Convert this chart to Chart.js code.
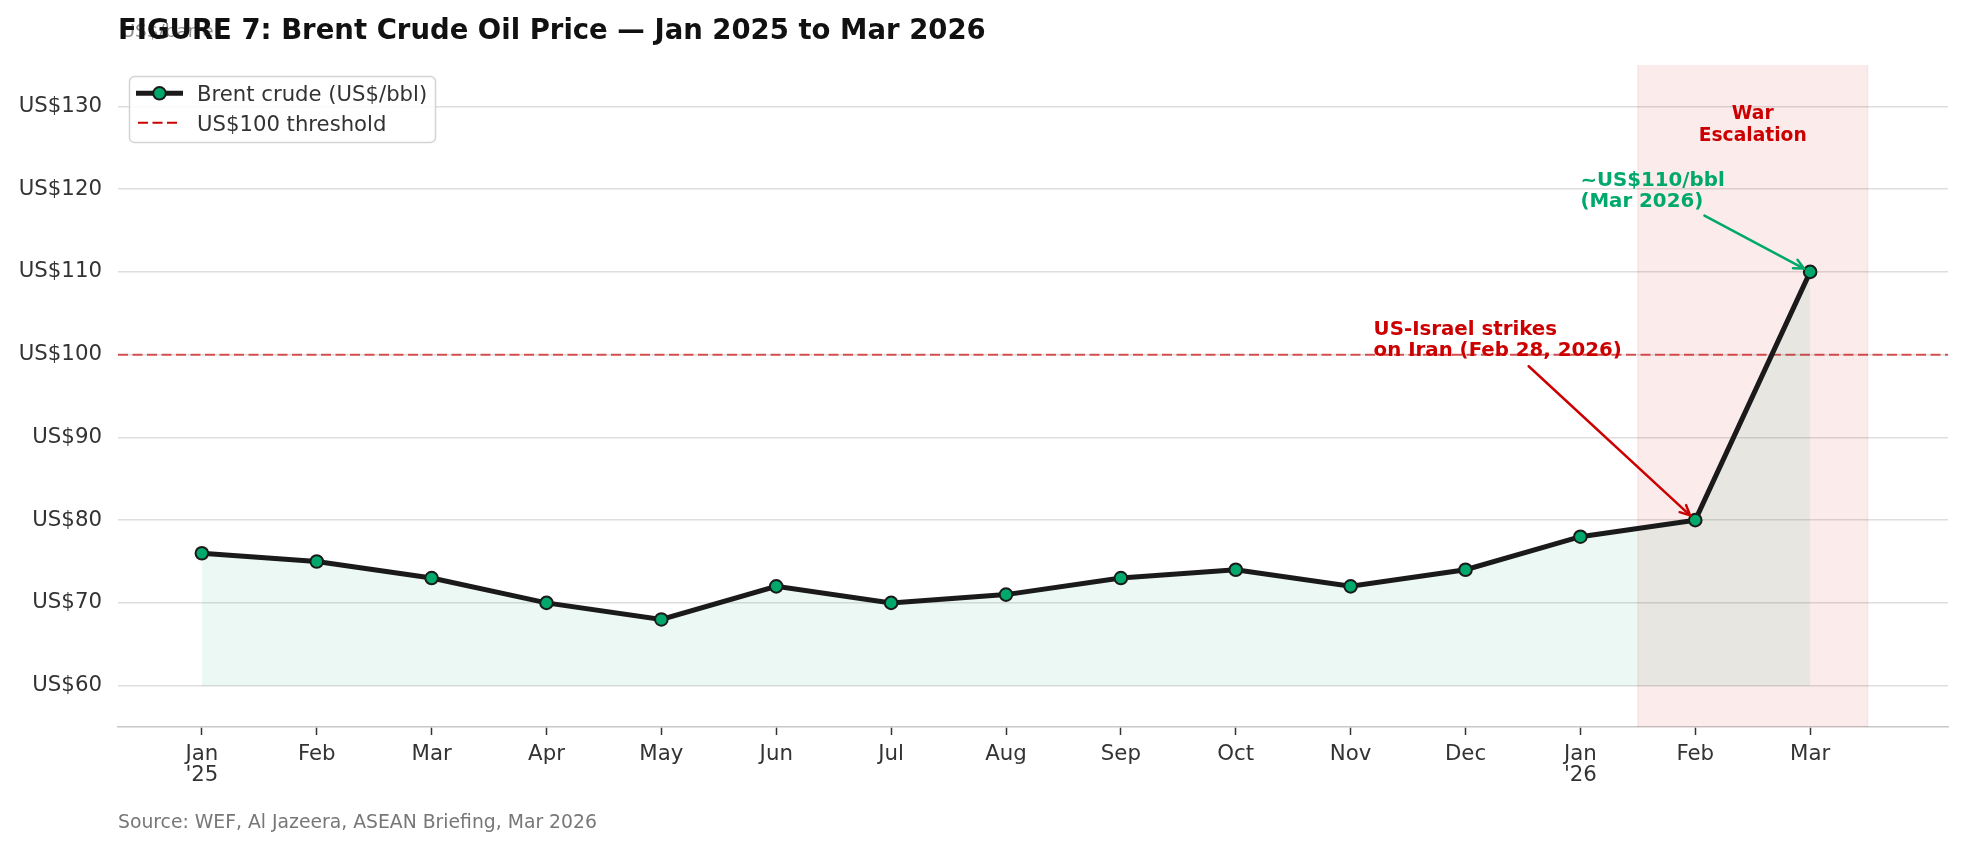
<!DOCTYPE html>
<html><head><meta charset="utf-8">
<script src="https://cdn.jsdelivr.net/npm/chart.js@4.4.1/dist/chart.umd.min.js"></script>
<style>html,body{margin:0;padding:0;background:#fff;}canvas{display:block;}</style>
</head><body>
<canvas id="c" width="1967" height="851"></canvas>
<script>
// ---- data ----
const months = ['Jan 2025','Feb 2025','Mar 2025','Apr 2025','May 2025','Jun 2025','Jul 2025','Aug 2025','Sep 2025','Oct 2025','Nov 2025','Dec 2025','Jan 2026','Feb 2026','Mar 2026'];
const prices = [76, 75, 73, 70, 68, 72, 70, 71, 73, 74, 72, 74, 78, 80, 110];
const tickLabels = [["Jan","'25"],"Feb","Mar","Apr","May","Jun","Jul","Aug","Sep","Oct","Nov","Dec",["Jan","'26"],"Feb","Mar"];
const yTicks = [60, 70, 80, 90, 100, 110, 120, 130];
const threshold = 100;
const fillBase = 60;
const xRange = [-0.73, 15.2];
const yRange = [55, 135];
const warSpan = [12.5, 14.5];

const titleText = 'FIGURE 7: Brent Crude Oil Price \u2014 Jan 2025 to Mar 2026';
const unitText = 'US$/barrel';
const sourceText = 'Source: WEF, Al Jazeera, ASEAN Briefing, Mar 2026';
const seriesName = 'Brent crude (US$/bbl)';
const thresholdName = 'US$100 threshold';

const annoWar = {lines:['War','Escalation'], x:13.5, y:128};
const annoPeak = {lines:['~US$110/bbl','(Mar 2026)'], x:12, y:120, from:[13.08,116.8], to:[14,110]};
const annoStrike = {lines:['US-Israel strikes','on Iran (Feb 28, 2026)'], x:10.2, y:102, from:[11.55,98.6], to:[13,80]};

// ---- styles ----
const FONT = '"DejaVu Sans", sans-serif';
const GREEN = '#00A86B';
const RED = '#CC0000';
const DARK = '#1a1a1a';
const TICK_SIZE = 21.3;

function arrow(ctx, x1, y1, x2, y2, color, shrink){
  const ang = Math.atan2(y2 - y1, x2 - x1);
  const ex = x2 - shrink * Math.cos(ang), ey = y2 - shrink * Math.sin(ang);
  ctx.save();
  ctx.strokeStyle = color; ctx.lineWidth = 2.5; ctx.lineCap = 'round'; ctx.lineJoin = 'round';
  ctx.beginPath(); ctx.moveTo(x1, y1); ctx.lineTo(ex, ey); ctx.stroke();
  const hl = 11, ha = 0.45;
  ctx.beginPath();
  ctx.moveTo(ex - hl * Math.cos(ang - ha), ey - hl * Math.sin(ang - ha));
  ctx.lineTo(ex, ey);
  ctx.lineTo(ex - hl * Math.cos(ang + ha), ey - hl * Math.sin(ang + ha));
  ctx.stroke();
  ctx.restore();
}

function textBlock(ctx, lines, px, cy, size, spacing, align, color){
  ctx.save();
  ctx.font = 'bold ' + size + 'px ' + FONT;
  ctx.fillStyle = color; ctx.textAlign = align; ctx.textBaseline = 'alphabetic';
  const n = lines.length;
  lines.forEach((t, i) => {
    const c = cy + (i - (n - 1) / 2) * spacing;
    ctx.fillText(t, px, c + 0.3645 * size);
  });
  ctx.restore();
}

const deco = {
  id: 'deco',
  beforeDatasetsDraw(chart){
    const {ctx, chartArea: a, scales: {x}} = chart;
    const x0 = x.getPixelForValue(warSpan[0]), x1 = x.getPixelForValue(warSpan[1]);
    ctx.save();
    ctx.fillStyle = 'rgba(204,0,0,0.08)';
    ctx.fillRect(x0, a.top, x1 - x0, a.bottom - a.top);
    ctx.strokeStyle = 'rgba(204,0,0,0.07)'; ctx.lineWidth = 1.5;
    ctx.beginPath();
    ctx.moveTo(x0, a.top); ctx.lineTo(x0, a.bottom);
    ctx.moveTo(x1, a.top); ctx.lineTo(x1, a.bottom);
    ctx.stroke();
    ctx.restore();
  },
  afterDatasetsDraw(chart){
    const {ctx, scales: {x, y}} = chart;
    textBlock(ctx, annoWar.lines, x.getPixelForValue(annoWar.x), y.getPixelForValue(annoWar.y), 18.7, 22, 'center', RED);
    textBlock(ctx, annoPeak.lines, x.getPixelForValue(annoPeak.x), y.getPixelForValue(annoPeak.y), 19.8, 21.3, 'left', GREEN);
    arrow(ctx, x.getPixelForValue(annoPeak.from[0]), y.getPixelForValue(annoPeak.from[1]),
          x.getPixelForValue(annoPeak.to[0]), y.getPixelForValue(annoPeak.to[1]), GREEN, 7);
    textBlock(ctx, annoStrike.lines, x.getPixelForValue(annoStrike.x), y.getPixelForValue(annoStrike.y), 19.8, 21.3, 'left', RED);
    arrow(ctx, x.getPixelForValue(annoStrike.from[0]), y.getPixelForValue(annoStrike.from[1]),
          x.getPixelForValue(annoStrike.to[0]), y.getPixelForValue(annoStrike.to[1]), RED, 7);
  },
  afterDraw(chart){
    const {ctx} = chart;
    ctx.save();
    ctx.font = '18.5px ' + FONT; ctx.fillStyle = '#8a8a8a'; ctx.textBaseline = 'alphabetic'; ctx.textAlign = 'left';
    ctx.fillText(unitText, 121.5, 37);
    ctx.font = 'bold 27.5px ' + FONT; ctx.fillStyle = '#111111';
    ctx.fillText(titleText, 118, 38.5);
    ctx.font = '18.8px ' + FONT; ctx.fillStyle = '#777777';
    ctx.fillText(sourceText, 118, 828.3);
    // legend
    const bx = 129.5, by = 76.5, bw = 306, bh = 66;
    ctx.fillStyle = 'rgba(255,255,255,0.85)'; ctx.strokeStyle = '#d4d4d4'; ctx.lineWidth = 1.5;
    ctx.beginPath(); ctx.roundRect(bx, by, bw, bh, 5); ctx.fill(); ctx.stroke();
    ctx.strokeStyle = DARK; ctx.lineWidth = 5;
    ctx.beginPath(); ctx.moveTo(136, 93.3); ctx.lineTo(183, 93.3); ctx.stroke();
    ctx.fillStyle = GREEN; ctx.strokeStyle = DARK; ctx.lineWidth = 2;
    ctx.beginPath(); ctx.arc(159.5, 93.3, 6.3, 0, Math.PI * 2); ctx.fill(); ctx.stroke();
    ctx.font = '21.2px ' + FONT; ctx.fillStyle = '#333333';
    ctx.fillText(seriesName, 197, 93 + 0.3645 * 21.2);
    ctx.strokeStyle = RED; ctx.lineWidth = 2; ctx.setLineDash([10, 4.5]);
    ctx.beginPath(); ctx.moveTo(138, 122.7); ctx.lineTo(181, 122.7); ctx.stroke();
    ctx.setLineDash([]);
    ctx.fillText(thresholdName, 197, 123 + 0.3645 * 21.2);
    ctx.restore();
  }
};

new Chart(document.getElementById('c'), {
  type: 'line',
  data: {
    datasets: [
      {
        label: seriesName,
        data: prices.map((v, i) => ({x: i, y: v})),
        borderColor: DARK, borderWidth: 5,
        pointRadius: 6.3, pointBorderWidth: 2, pointBackgroundColor: GREEN, pointBorderColor: DARK,
        fill: {value: fillBase}, backgroundColor: 'rgba(0,168,107,0.08)',
        tension: 0
      },
      {
        label: thresholdName,
        data: [{x: xRange[0], y: threshold}, {x: xRange[1], y: threshold}],
        borderColor: 'rgba(204,0,0,0.65)', borderWidth: 2, borderDash: [10, 4.5],
        pointRadius: 0, fill: false
      }
    ]
  },
  options: {
    responsive: false, animation: false, devicePixelRatio: 1,
    layout: {padding: {left: 0, top: 65, right: 19, bottom: 0}},
    plugins: {legend: {display: false}, tooltip: {enabled: false}, title: {display: false}},
    scales: {
      x: {
        type: 'linear', min: xRange[0], max: xRange[1],
        afterBuildTicks: s => { s.ticks = months.map((_, i) => ({value: i})); },
        afterFit: s => { s.height = 124; },
        grid: {drawOnChartArea: false, drawTicks: true, tickLength: 8, tickColor: '#333333', tickWidth: 1.5, color: '#333333'},
        border: {display: true, color: '#c8c8c8', width: 1.5},
        ticks: {autoSkip: false, maxRotation: 0, minRotation: 0, padding: 8, color: '#333333',
                font: {family: FONT, size: TICK_SIZE, lineHeight: 1.03},
                callback: (v, i) => tickLabels[i]}
      },
      y: {
        min: yRange[0], max: yRange[1],
        afterBuildTicks: s => { s.ticks = yTicks.map(v => ({value: v})); },
        afterFit: s => { s.width = 118; },
        grid: {color: '#dedede', lineWidth: 1.5, drawTicks: false},
        border: {display: false},
        ticks: {padding: 16, color: '#333333', font: {family: FONT, size: TICK_SIZE},
                callback: v => 'US$' + v}
      }
    }
  },
  plugins: [deco]
});
</script>
</body></html>
